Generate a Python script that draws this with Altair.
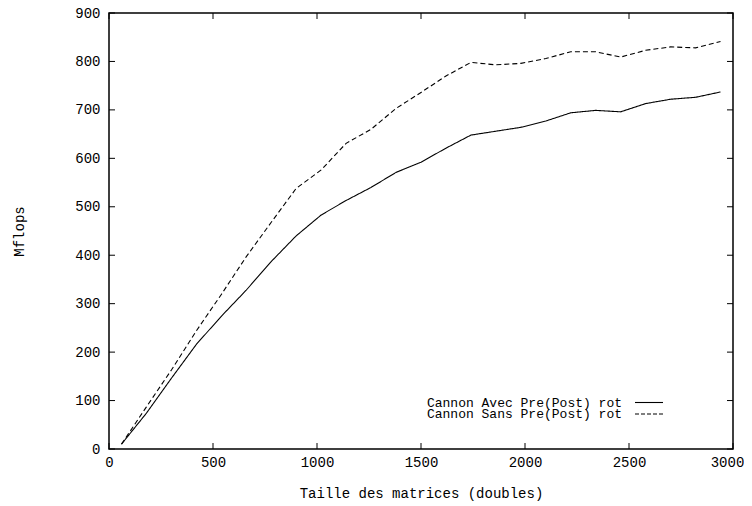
import altair as alt
import pandas as pd

# ---- data ----
sizes = [60, 180, 300, 420, 540, 660, 780, 900, 1020, 1140, 1260, 1380, 1500,
         1620, 1740, 1860, 1980, 2100, 2220, 2340, 2460, 2580, 2700, 2820, 2940]
avec = [10, 74, 146, 216, 274, 328, 387, 440, 483, 513, 540, 571, 592,
        621, 648, 656, 664, 677, 694, 699, 696, 713, 722, 726, 737]
sans = [10, 87, 163, 244, 319, 397, 468, 538, 576, 631, 660, 703, 736,
        770, 798, 793, 796, 806, 820, 820, 809, 823, 830, 828, 841]
series_names = ["Cannon Avec Pre(Post) rot", "Cannon Sans Pre(Post) rot"]
x_ticks = [0, 500, 1000, 1500, 2000, 2500, 3000]
y_ticks = [0, 100, 200, 300, 400, 500, 600, 700, 800, 900]
x_title = "Taille des matrices (doubles)"
y_title = "Mflops"

df = pd.DataFrame({
    "taille": sizes + sizes,
    "mflops": avec + sans,
    "serie": [series_names[0]] * len(sizes) + [series_names[1]] * len(sizes),
})
xt = pd.DataFrame({"taille": x_ticks})
yt = pd.DataFrame({"mflops": y_ticks})

FONT = "Liberation Mono"
FS = 14
W, H = 624, 436
TL = 6  # inward tick length

xs = alt.Scale(domain=[0, 3000], nice=False, zero=False)
ys = alt.Scale(domain=[0, 900], nice=False)
dash = alt.Scale(domain=series_names, range=[[1, 0], [5, 3]])

x_lab = alt.Axis(orient="bottom", values=x_ticks, format="d", title=x_title, ticks=False,
                 tickSize=0, domain=False, grid=False, labelFont=FONT, labelFontSize=FS,
                 labelColor="black", labelPadding=6, labelFlush=False,
                 labelOffset={"condition": {"test": "datum.value >= 3000", "value": -6},
                              "value": 0},
                 titleFont=FONT, titleFontSize=FS, titleFontWeight="normal",
                 titleColor="black", titleY=44, titleBaseline="middle", titleAlign="center")
y_lab = alt.Axis(orient="left", values=y_ticks, format="d", title=y_title, ticks=False,
                 tickSize=0, domain=False, grid=False, labelFont=FONT, labelFontSize=FS,
                 labelColor="black", labelPadding=9, labelFlush=False, titleFont=FONT,
                 titleFontSize=FS, titleFontWeight="normal", titleColor="black",
                 titleX=-89.5, titleY=H / 2, titleBaseline="middle", titleAlign="center")

def X(field):
    return alt.X(f"{field}:Q", scale=xs, axis=x_lab, title=x_title)

def Y(field):
    return alt.Y(f"{field}:Q", scale=ys, axis=y_lab, title=y_title)

lines = alt.Chart(df).mark_line(color="black", strokeWidth=1.1).encode(
    x=X("taille"),
    y=Y("mflops"),
    strokeDash=alt.StrokeDash("serie:N", scale=dash, legend=None),
    detail="serie:N",
)

# inward tick marks on all four sides (gnuplot style)
tick_style = dict(color="black", strokeWidth=1)
tb = alt.Chart(xt).mark_rule(**tick_style).encode(
    x=X("taille"), y=alt.value(H), y2=alt.value(H - TL))
tt = alt.Chart(xt).mark_rule(**tick_style).encode(
    x=X("taille"), y=alt.value(0), y2=alt.value(TL))
tl = alt.Chart(yt).mark_rule(**tick_style).encode(
    y=Y("mflops"), x=alt.value(0), x2=alt.value(TL))
tr = alt.Chart(yt).mark_rule(**tick_style).encode(
    y=Y("mflops"), x=alt.value(W), x2=alt.value(W - TL))

# legend (manual, gnuplot-style: label then sample)
leg1 = pd.DataFrame({"serie": [series_names[0]]})
leg2 = pd.DataFrame({"serie": [series_names[1]]})
LFS = 13
t1 = alt.Chart(leg1).mark_text(font=FONT, fontSize=LFS, align="right", baseline="middle",
                               color="black").encode(
    text="serie:N", x=alt.value(513), y=alt.value(389.5))
t2 = alt.Chart(leg2).mark_text(font=FONT, fontSize=LFS, align="right", baseline="middle",
                               color="black").encode(
    text="serie:N", x=alt.value(513), y=alt.value(401))
r1 = alt.Chart(leg1).mark_rule(color="black", strokeWidth=1.1).encode(
    x=alt.value(526), x2=alt.value(554), y=alt.value(389.5))
r2 = alt.Chart(leg2).mark_rule(color="black", strokeWidth=1.1, strokeDash=[4, 2]).encode(
    x=alt.value(526), x2=alt.value(554), y=alt.value(401))

chart = alt.layer(lines, tb, tt, tl, tr, t1, t2, r1, r2).properties(
    width=W, height=H,
    autosize=alt.AutoSizeParams(type="none"),
    padding={"left": 101, "top": 5, "right": 11, "bottom": 57},
    background="white",
).configure_view(stroke="black", strokeWidth=1.5)

chart.save("out.html", embed_options={"renderer": "svg", "actions": False})
